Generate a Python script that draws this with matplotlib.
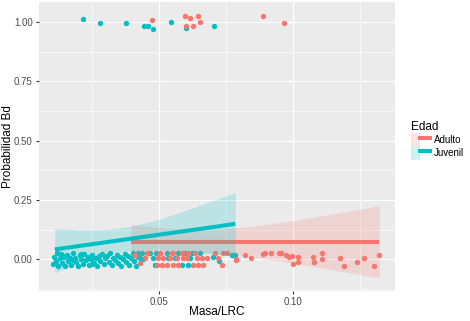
import numpy as np
import matplotlib
matplotlib.use("Agg")
import matplotlib.pyplot as plt
from matplotlib.patches import Patch
from matplotlib.lines import Line2D
from matplotlib.legend_handler import HandlerTuple

plt.rcParams['font.family'] = ['Liberation Sans', 'DejaVu Sans']

# ---- data ----
# jittered observations, Bd = 1
juv_pos_x = [0.0216, 0.0279, 0.0378, 0.0444, 0.0459, 0.0479, 0.0546, 0.0601, 0.0706]
juv_pos_y = [1.014, 0.995, 0.996, 0.982, 0.983, 0.971, 1.000, 0.975, 0.982]
adu_pos_x = [0.0475, 0.0596, 0.0602, 0.0615, 0.0625, 0.0646, 0.0653, 0.0889, 0.0964]
adu_pos_y = [1.010, 1.026, 0.983, 1.018, 0.982, 1.025, 1.001, 1.026, 0.996]

# jittered observations, Bd = 0
juv_neg_x = [0.0105, 0.0110, 0.0115, 0.0120, 0.0124, 0.0130, 0.0135, 0.0140, 0.0146, 0.0150,
             0.0156, 0.0162, 0.0168, 0.0173, 0.0180, 0.0186, 0.0192, 0.0199, 0.0204, 0.0210,
             0.0216, 0.0222, 0.0228, 0.0235, 0.0240, 0.0246, 0.0252, 0.0258, 0.0264, 0.0270,
             0.0276, 0.0282, 0.0288, 0.0294, 0.0300, 0.0306, 0.0312, 0.0318, 0.0324, 0.0330,
             0.0336, 0.0342, 0.0348, 0.0354, 0.0360, 0.0366, 0.0372, 0.0378, 0.0384, 0.0390,
             0.0396, 0.0402, 0.0408, 0.0414, 0.0420, 0.0113, 0.0143, 0.0178, 0.0208, 0.0250,
             0.0421, 0.0429, 0.0436, 0.0442, 0.0466, 0.0479, 0.0485, 0.0488, 0.0529, 0.0535,
             0.0560, 0.0572, 0.0585, 0.0597, 0.0609, 0.0615, 0.0622, 0.0653, 0.0700, 0.0725,
             0.0770, 0.0784]
juv_neg_y = [-0.020, 0.012, -0.005, 0.025, -0.028, 0.005, 0.022, -0.015, 0.010, -0.026,
             0.020, -0.008, 0.004, -0.022, 0.026, 0.008, -0.012, -0.028, 0.018, 0.000,
             -0.018, 0.024, -0.004, 0.012, -0.025, 0.002, 0.020, -0.014, 0.008, -0.027,
             0.016, -0.006, 0.024, -0.020, 0.004, 0.015, -0.010, 0.026, -0.024, 0.006,
             -0.002, 0.020, -0.016, 0.010, -0.028, 0.000, 0.022, -0.012, 0.014, -0.022,
             0.004, 0.025, -0.006, -0.026, 0.012, -0.014, 0.016, -0.004, 0.022, -0.020,
             0.026, 0.005, 0.026, 0.003, 0.026, 0.006, -0.024, 0.026, 0.026, 0.005,
             0.005, 0.026, -0.024, 0.026, -0.024, 0.005, 0.026, 0.026, 0.010, -0.005,
             0.020, 0.018]
adu_neg_x = [0.0411, 0.0430, 0.0448, 0.0454, 0.0491, 0.0497, 0.0504, 0.0510, 0.0516, 0.0529,
             0.0541, 0.0547, 0.0553, 0.0553, 0.0566, 0.0572, 0.0585, 0.0590, 0.0603, 0.0609,
             0.0628, 0.0634, 0.0640, 0.0646, 0.0659, 0.0665, 0.0678, 0.0708, 0.0721, 0.0733,
             0.0739, 0.0752, 0.0787, 0.0787, 0.0819, 0.0843, 0.0887, 0.0895, 0.0917, 0.0948,
             0.0954, 0.0973, 0.0983, 0.0994, 0.1000, 0.1018, 0.1018, 0.1072, 0.1078, 0.1108,
             0.1107, 0.1173, 0.1188, 0.1237, 0.1263, 0.1299, 0.1319]
adu_neg_y = [0.020, -0.015, 0.005, 0.026, -0.024, 0.005, 0.026, -0.024, 0.005, -0.024,
             0.005, 0.026, 0.026, -0.024, 0.005, -0.024, 0.026, 0.005, 0.005, 0.026,
             -0.024, 0.026, 0.005, -0.024, 0.005, -0.024, 0.005, 0.026, 0.005, -0.024,
             0.026, 0.026, 0.000, -0.003, 0.017, 0.004, 0.024, 0.026, 0.026, 0.025,
             0.026, 0.017, 0.010, 0.015, -0.021, 0.011, -0.011, 0.010, -0.012, 0.025,
             0.003, 0.008, -0.029, -0.011, 0.008, -0.029, 0.018]

# fitted lines and confidence bands
juv_fit_x = [0.0112, 0.0200, 0.0300, 0.0400, 0.0500, 0.0600, 0.0700, 0.0784]
juv_fit = [0.042, 0.056, 0.072, 0.088, 0.104, 0.120, 0.136, 0.150]
juv_lo = [-0.058, -0.012, 0.019, 0.037, 0.040, 0.034, 0.025, 0.016]
juv_hi = [0.130, 0.125, 0.125, 0.140, 0.169, 0.207, 0.248, 0.282]

adu_fit_x = [0.0396, 0.050, 0.060, 0.070, 0.080, 0.090, 0.100, 0.110, 0.120, 0.132]
adu_fit = [0.074] * 10
adu_lo = [0.000, 0.0145, 0.023, 0.023, 0.0145, 0.001, -0.016, -0.035, -0.054, -0.078]
adu_hi = [0.148, 0.1335, 0.125, 0.125, 0.1335, 0.147, 0.164, 0.183, 0.202, 0.226]

groups = ['Adulto', 'Juvenil']
colors = {'Adulto': '#F8766D', 'Juvenil': '#00BFC4'}

# ---- plot ----
fig = plt.figure(figsize=(4.70, 3.21), dpi=100)
ax = fig.add_axes([39 / 470, 1 - 291 / 321, 356 / 470, 289 / 321])
ax.set_facecolor('#EBEBEB')

ax.set_xlim(0.00532, 0.13786)
ax.set_ylim(-0.133, 1.084)
ax.set_xticks([0.05, 0.10])
ax.set_xticklabels(['0.05', '0.10'])
ax.set_xticks([0.025, 0.075, 0.125], minor=True)
ax.set_yticks([0.0, 0.25, 0.5, 0.75, 1.0])
ax.set_yticklabels(['0.00', '0.25', '0.50', '0.75', '1.00'])
ax.set_yticks([-0.125, 0.125, 0.375, 0.625, 0.875], minor=True)
ax.grid(which='major', color='white', lw=0.85)
ax.grid(which='minor', color='white', lw=0.45)
ax.set_axisbelow(True)
for s in ax.spines.values():
    s.set_visible(False)
ax.tick_params(which='major', length=2.5, width=0.8, color='#333333',
               labelsize=7, labelcolor='#4D4D4D', pad=2)
ax.tick_params(which='minor', length=0)

# points
ax.scatter(juv_pos_x + juv_neg_x, juv_pos_y + juv_neg_y, s=15, color=colors['Juvenil'],
           linewidths=0, zorder=2)
ax.scatter(adu_pos_x + adu_neg_x, adu_pos_y + adu_neg_y, s=15, color=colors['Adulto'],
           linewidths=0, zorder=2)

# smooths: Adulto first, then Juvenil on top
ax.fill_between(adu_fit_x, adu_lo, adu_hi, color=colors['Adulto'], alpha=0.2, lw=0, zorder=3)
ax.plot(adu_fit_x, adu_fit, color=colors['Adulto'], lw=2.9, zorder=3, solid_capstyle='butt')
ax.fill_between(juv_fit_x, juv_lo, juv_hi, color=colors['Juvenil'], alpha=0.2, lw=0, zorder=3)
ax.plot(juv_fit_x, juv_fit, color=colors['Juvenil'], lw=2.9, zorder=3, solid_capstyle='butt')

ax.set_xlabel('Masa/LRC', fontsize=8.5, va='center')
ax.xaxis.set_label_coords(0.5, -21 / 289)
ax.set_ylabel('Probabilidad Bd', fontsize=8.5, va='center')
ax.yaxis.set_label_coords(-31 / 356, 0.5)

handles = [(Patch(facecolor=colors[g], alpha=0.2, lw=0),
            Line2D([], [], color=colors[g], lw=2.9)) for g in groups]
leg = fig.legend(handles, groups, title='Edad', loc='upper left',
                 bbox_to_anchor=(409 / 470, 1 - 119 / 321), frameon=False,
                 handler_map={tuple: HandlerTuple(ndivide=None, pad=0)},
                 fontsize=7, title_fontsize=8.5, handlelength=1.95, handleheight=1.75,
                 handletextpad=0.4, labelspacing=0.0, borderaxespad=0, borderpad=0.2)
leg._legend_box.align = 'left'

fig.savefig('out.png', dpi=100)
